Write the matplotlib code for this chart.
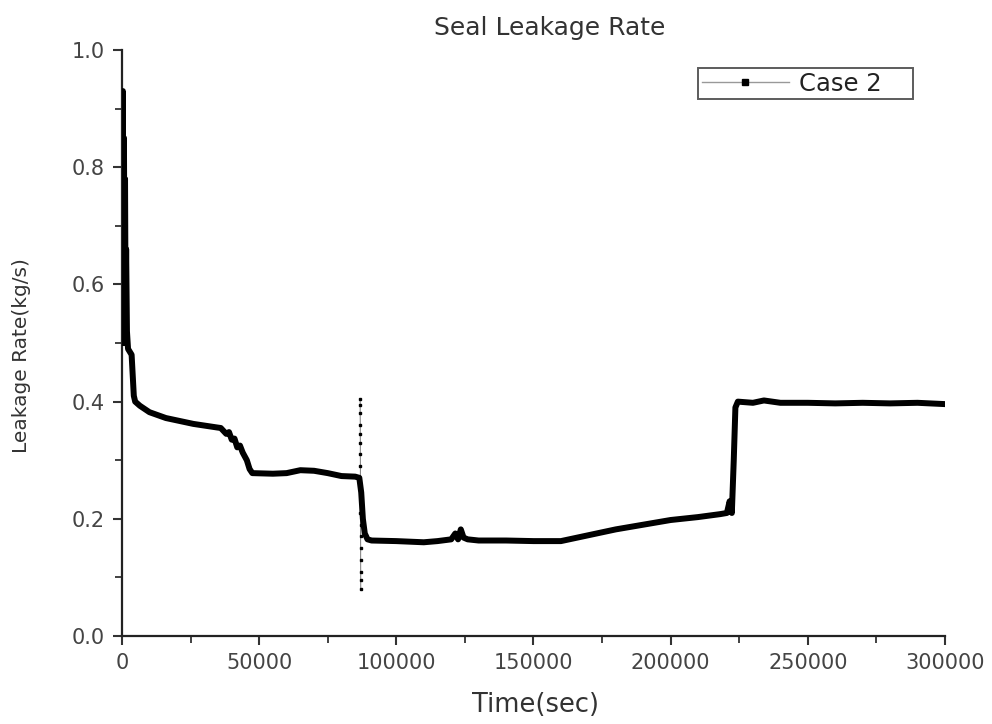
import matplotlib.pyplot as plt
from matplotlib.lines import Line2D
from matplotlib.ticker import MultipleLocator, FormatStrFormatter

plt.rcParams['font.family'] = ['DejaVu Sans']

# main curve (Case 2)
time_s = [0, 300, 500, 700, 900, 1100, 1300, 1500, 1800, 2200, 3500, 4300, 4800,
          6500, 10000, 16000, 26000, 34500, 36000, 38000, 39000, 40000, 41000, 42000,
          43000, 44000, 45500, 46500, 47500, 55000,
          60000, 65000, 70000, 75000, 80000, 85000, 86500, 87200, 87800, 88500,
          89500, 91000, 100000, 110000, 115000, 120000, 121500, 122500, 123500,
          124500, 126000, 130000, 140000, 150000, 160000, 170000, 180000, 190000,
          200000, 210000, 218000, 220500, 221500, 222300, 223000, 223600, 224500,
          230000, 234000, 240000, 250000, 260000, 270000, 280000, 290000, 299000]
rate = [0.50, 0.93, 0.70, 0.85, 0.62, 0.78, 0.56, 0.66, 0.52, 0.49, 0.48, 0.41, 0.40,
        0.393, 0.382, 0.372, 0.362, 0.356, 0.355, 0.345, 0.348, 0.335, 0.337, 0.322,
        0.325, 0.313, 0.300, 0.285, 0.278, 0.277,
        0.278, 0.283, 0.282, 0.278, 0.273, 0.272, 0.270, 0.245, 0.200, 0.175,
        0.165, 0.163, 0.162, 0.160, 0.162, 0.165, 0.175, 0.165, 0.182, 0.168,
        0.165, 0.163, 0.163, 0.162, 0.162, 0.172, 0.182, 0.190,
        0.198, 0.203, 0.208, 0.210, 0.230, 0.210, 0.300, 0.390, 0.400,
        0.398, 0.402, 0.398, 0.398, 0.397, 0.398, 0.397, 0.398, 0.396]

# scattered samples of the short transient near 87000 s
spike_t = [86800, 86850, 86820, 86880, 86860, 86900, 86880, 86920, 86900, 86940,
           86930, 86960, 86950, 86980, 86970, 87000, 86990, 87020]
spike_v = [0.405, 0.395, 0.38, 0.36, 0.345, 0.33, 0.31, 0.29, 0.26, 0.23,
           0.21, 0.19, 0.17, 0.15, 0.13, 0.11, 0.095, 0.08]

fig = plt.figure(figsize=(9.92, 7.24), dpi=100)
ax = fig.add_axes([0.123, 0.1215, 0.8296, 0.8094])

ax.plot(spike_t, spike_v, color='#888888', lw=0.8, marker='s', ms=2,
        mfc='black', mec='black', zorder=2)
ax.plot(time_s, rate, color='black', lw=4.3, solid_joinstyle='round', zorder=3)

ax.set_xlim(0, 300000)
ax.set_ylim(0, 1.0)
ax.xaxis.set_major_locator(MultipleLocator(50000))
ax.xaxis.set_minor_locator(MultipleLocator(25000))
ax.yaxis.set_major_locator(MultipleLocator(0.2))
ax.yaxis.set_minor_locator(MultipleLocator(0.1))
ax.yaxis.set_major_formatter(FormatStrFormatter('%.1f'))

for s in ['top', 'right']:
    ax.spines[s].set_visible(False)
for s in ['left', 'bottom']:
    ax.spines[s].set_linewidth(1.6)
    ax.spines[s].set_color('#222222')
ax.tick_params(which='major', direction='out', length=6.5, width=1.5,
               labelsize=15, colors='#333333', labelcolor='#444444', pad=6)
ax.tick_params(which='minor', direction='out', length=5, width=1.3, colors='#333333')

fig.text(550 / 992, 1 - 28 / 724, 'Seal Leakage Rate', fontsize=18,
         color='#333333', ha='center', va='center')
fig.text(535 / 992, 1 - 705 / 724, 'Time(sec)', fontsize=18.5,
         color='#333333', ha='center', va='center')
fig.text(22 / 992, 1 - 356 / 724, 'Leakage Rate(kg/s)', fontsize=14.5,
         color='#333333', ha='center', va='center', rotation=90)

handle = Line2D([], [], color='#999999', lw=1, marker='s', ms=4,
                mfc='black', mec='black')
leg = ax.legend([handle], ['Case 2'], loc='upper left', mode='expand',
                bbox_to_anchor=(698 / 992, 1 - 108 / 724, 215 / 992, 40 / 724),
                bbox_transform=fig.transFigure, fontsize=17.5, fancybox=False,
                edgecolor='#333333', handlelength=3.6, borderpad=0.15,
                handletextpad=0.4, borderaxespad=0, shadow=False)
leg.get_frame().set_linewidth(1.4)
for t in leg.get_texts():
    t.set_color('#222222')

fig.savefig('out.png', dpi=100)
